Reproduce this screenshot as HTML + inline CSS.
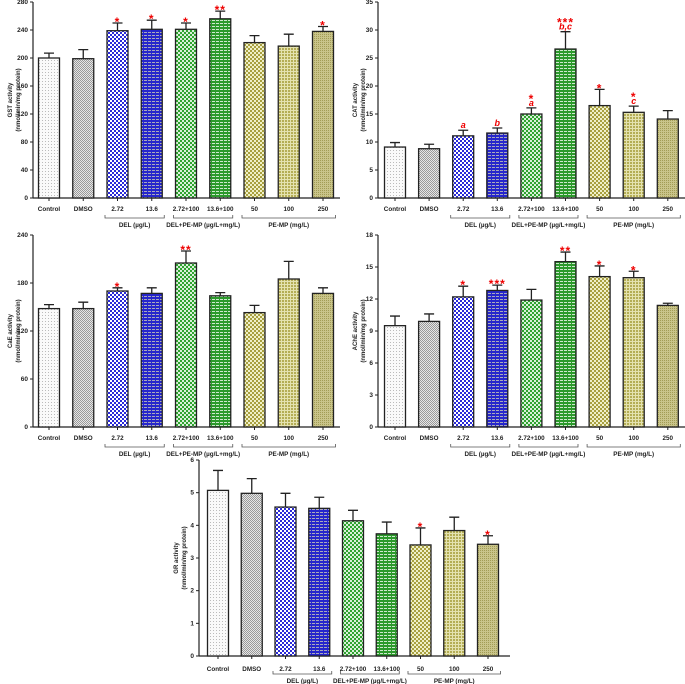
<!DOCTYPE html>
<html><head><meta charset="utf-8">
<style>
body{margin:0;background:#fff;width:685px;height:684px;overflow:hidden;font-family:"Liberation Sans",sans-serif}
svg{position:absolute;left:0;top:0}
</style></head>
<body>
<svg id="fig" width="685" height="684">
<defs>
<pattern id="p0" width="3" height="3" patternUnits="userSpaceOnUse"><rect width="3" height="3" fill="#fafafa"/><rect width="1" height="1" fill="#bbb"/></pattern>
<pattern id="p1" width="2" height="2" patternUnits="userSpaceOnUse"><rect width="2" height="2" fill="#e6e6e6"/><rect width="1" height="1" fill="#999"/><rect x="1" y="1" width="1" height="1" fill="#999"/></pattern>
<pattern id="p2" width="4" height="4" patternUnits="userSpaceOnUse"><rect width="4" height="4" fill="#fff"/><rect width="2" height="2" fill="#2a2ad8"/><rect x="2" y="2" width="2" height="2" fill="#2a2ad8"/></pattern>
<pattern id="p3" width="4" height="3" patternUnits="userSpaceOnUse"><rect width="4" height="3" fill="#2626cc"/><rect y="2" width="3" height="1" fill="#aab"/></pattern>
<pattern id="p4" width="4" height="4" patternUnits="userSpaceOnUse"><rect width="4" height="4" fill="#d8f0d8"/><rect width="2" height="2" fill="#2fa32f"/><rect x="2" y="2" width="2" height="2" fill="#2fa32f"/></pattern>
<pattern id="p5" width="4" height="3" patternUnits="userSpaceOnUse"><rect width="4" height="3" fill="#2c9a2c"/><rect y="2" width="3" height="1" fill="#cfe8cf"/></pattern>
<pattern id="p6" width="4" height="4" patternUnits="userSpaceOnUse"><rect width="4" height="4" fill="#f0f0c8"/><rect width="2" height="2" fill="#a8a040"/><rect x="2" y="2" width="2" height="2" fill="#a8a040"/></pattern>
<pattern id="p7" width="3" height="3" patternUnits="userSpaceOnUse"><rect width="3" height="3" fill="#e4e2b0"/><rect width="2" height="2" fill="#b4ad55"/></pattern>
<pattern id="p8" width="2" height="2" patternUnits="userSpaceOnUse"><rect width="2" height="2" fill="#c9c48a"/><rect width="1" height="1" fill="#a29c55"/></pattern>
</defs>
</svg>
<script>
const categories=["Control","DMSO","2.72","13.6","2.72+100","13.6+100","50","100","250"];
const gstValues=[200,199,239,241,241,256,222,217,238];
const gstErrTop=[207,212,250,254,250,267,232,234,245];
const gstMarks=["","","*","*","*","**","","","*"];
const gstTicks=[0,40,80,120,160,200,240,280];
const catValues=[9.1,8.8,11.1,11.6,15.0,26.6,16.5,15.3,14.1];
const catErrTop=[9.9,9.6,12.1,12.5,16.1,29.7,19.4,16.4,15.6];
const catMarks=["","","","","*","***","*","*",""];
const catLetters=["","","a","b","a","b,c","","c",""];
const catTicks=[0,5,10,15,20,25,30,35];
const caeValues=[148,148,170,167,205,164,143,185,167];
const caeErrTop=[153,156,174,174,220,168,152,207,174];
const caeMarks=["","","*","","**","","","",""];
const caeTicks=[0,60,120,180,240];
const acheValues=[9.5,9.9,12.2,12.8,11.9,15.5,14.1,14.0,11.4];
const acheErrTop=[10.4,10.6,13.2,13.3,12.9,16.4,15.1,14.6,11.6];
const acheMarks=["","","*","***","","**","*","*",""];
const acheTicks=[0,3,6,9,12,15,18];
const grValues=[5.07,4.98,4.56,4.52,4.14,3.74,3.40,3.84,3.42];
const grErrTop=[5.68,5.43,4.98,4.86,4.46,4.10,3.92,4.25,3.68];
const grMarks=["","","","","","","*","","*"];
const grTicks=[0,1,2,3,4,5,6];
const groupNames=["DEL (µg/L)","DEL+PE-MP (µg/L+mg/L)","PE-MP (mg/L)"];

const NS="http://www.w3.org/2000/svg";
const svg=document.getElementById('fig');
function mk(tag,attrs,parent,text){const e=document.createElementNS(NS,tag);for(const k in attrs)e.setAttribute(k,attrs[k]);if(text!==undefined)e.textContent=text;parent.appendChild(e);return e;}

function chart(id,cfg,vals,errs,marks,letters,ticks,ylab){
  const g=mk('g',{},svg);
  
  
  const max=ticks[ticks.length-1];
  const y=v=>cfg.y0-(v/max)*(cfg.y0-cfg.yTop);
  const x=i=>cfg.x0+i*cfg.step;
  const ax=mk('line',{x1:cfg.ax,y1:cfg.yTop,x2:cfg.ax,y2:cfg.y0,stroke:'#222','stroke-width':1.2},g);
  
  
  const xa=mk('line',{x1:cfg.ax,y1:cfg.y0,x2:cfg.axEnd,y2:cfg.y0,stroke:'#222','stroke-width':1.2},g);
  
  
  ticks.forEach(t=>{
    mk('line',{x1:cfg.ax-3,y1:y(t),x2:cfg.ax,y2:y(t),stroke:'#222','stroke-width':1},g);
    const tl=mk('text',{x:cfg.ax-5,y:y(t)+2,'text-anchor':'end','font-size':6.5,'font-weight':'bold',fill:'#222'},g,String(t));
    
    
  });
  const lx=cfg.ax-21, ly=(cfg.y0+cfg.yTop)/2;
  const yt=mk('text',{x:lx,y:ly,'text-anchor':'middle','font-size':6,'font-weight':'bold',transform:`rotate(-90 ${lx} ${ly})`,fill:'#222'},g,ylab);
  
  
  const yt2=mk('text',{x:lx+8,y:ly,'text-anchor':'middle','font-size':6,'font-weight':'bold',transform:`rotate(-90 ${lx+8} ${ly})`,fill:'#222'},g,'(nmol/min/mg protein)');
  
  
  const bw=21;
  vals.forEach((v,i)=>{
    const cx=x(i);
    const b=mk('rect',{x:cx-bw/2,y:y(v),width:bw,height:cfg.y0-y(v),fill:'url(#p'+i+')',stroke:'#222','stroke-width':1.3},g);
    
    
    const e=mk('path',{d:`M${cx} ${y(v)}V${y(errs[i])}M${cx-5} ${y(errs[i])}H${cx+5}`,stroke:'#222','stroke-width':1.3,fill:'none'},g);
    
    
    let top=y(errs[i])-2;
    if(letters&&letters[i]){
      const lt=mk('text',{x:cx,y:top,'text-anchor':'middle','font-size':9,'font-style':'italic','font-weight':'bold',fill:'#e00'},g,letters[i]);
      
      
      top-=8;
    }
    if(marks[i]){
      const s=mk('text',{x:cx,y:top+5,'text-anchor':'middle','font-size':12,'font-weight':'bold',fill:'#e00','letter-spacing':'1'},g,marks[i]);
      
      
    }
    mk('line',{x1:cx,y1:cfg.y0,x2:cx,y2:cfg.y0+3,stroke:'#222'},g);
    const cl=mk('text',{x:cx,y:cfg.y0+cfg.lab,'text-anchor':'middle','font-size':6.3,'font-weight':'bold',fill:'#222'},g,categories[i]);
    
    
  });
  const spans=[[2,3],[4,5],[6,8]];
  spans.forEach((s,k)=>{
    const x1=x(s[0])-bw/2-3, x2=x(s[1])+bw/2+3, by=cfg.y0+cfg.br;
    const br=mk('path',{d:`M${x1+1} ${by-3}V${by}H${x2-1}V${by-3}`,stroke:'#555','stroke-width':0.8,fill:'none'},g);
    
    
    const gl=mk('text',{x:(x1+x2)/2,y:cfg.y0+cfg.gl,'text-anchor':'middle','font-size':6.3,'font-weight':'bold',fill:'#222'},g,groupNames[k]);
    
    
  });
}
chart('gst',{ax:33,axEnd:340,x0:49,step:34.25,y0:198,yTop:2,lab:13,br:20,gl:29},gstValues,gstErrTop,gstMarks,null,gstTicks,'GST activity');
chart('cat',{ax:378,axEnd:685,x0:395,step:34.1,y0:198,yTop:2,lab:13,br:20,gl:29},catValues,catErrTop,catMarks,catLetters,catTicks,'CAT activity');
chart('cae',{ax:33,axEnd:340,x0:49,step:34.25,y0:427,yTop:235,lab:13,br:20,gl:29},caeValues,caeErrTop,caeMarks,null,caeTicks,'CaE activity');
chart('ache',{ax:378,axEnd:685,x0:395,step:34.1,y0:427,yTop:235,lab:13,br:20,gl:29},acheValues,acheErrTop,acheMarks,null,acheTicks,'AChE activity');
chart('gr',{ax:199,axEnd:510,x0:218,step:33.75,y0:656,yTop:460,lab:15,br:18,gl:27},grValues,grErrTop,grMarks,null,grTicks,'GR activity');
</script>
</body></html>
